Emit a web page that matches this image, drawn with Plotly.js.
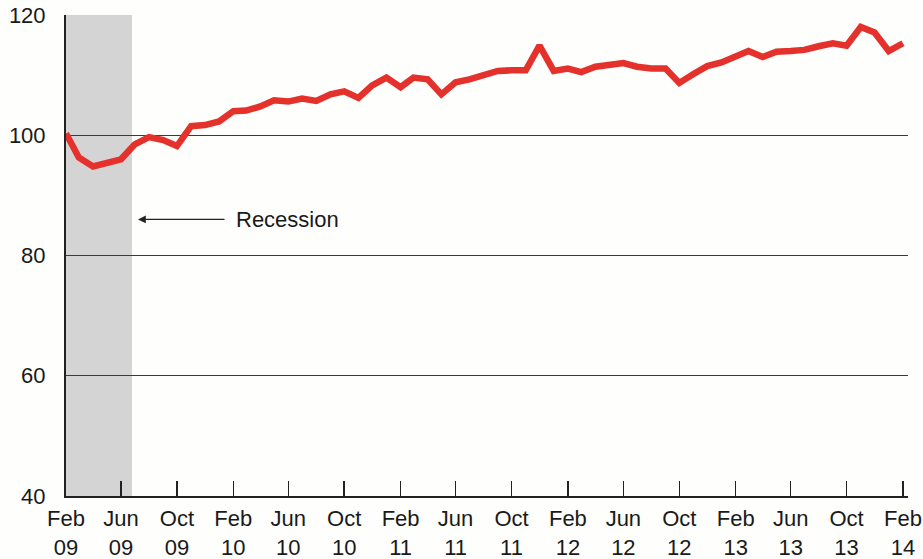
<!DOCTYPE html>
<html>
<head>
<meta charset="utf-8">
<script src="https://cdn.plot.ly/plotly-3.0.1.min.js"></script>
<style>html,body{margin:0;padding:0;background:#fefefc;}#chart{width:923px;height:559px;}</style>
</head>
<body>
<div id="chart"></div>
<script>
// Monthly dates Feb 2009 .. Feb 2014
const months = [
  '2009-02','2009-03','2009-04','2009-05','2009-06','2009-07','2009-08','2009-09','2009-10','2009-11','2009-12',
  '2010-01','2010-02','2010-03','2010-04','2010-05','2010-06','2010-07','2010-08','2010-09','2010-10','2010-11','2010-12',
  '2011-01','2011-02','2011-03','2011-04','2011-05','2011-06','2011-07','2011-08','2011-09','2011-10','2011-11','2011-12',
  '2012-01','2012-02','2012-03','2012-04','2012-05','2012-06','2012-07','2012-08','2012-09','2012-10','2012-11','2012-12',
  '2013-01','2013-02','2013-03','2013-04','2013-05','2013-06','2013-07','2013-08','2013-09','2013-10','2013-11','2013-12',
  '2014-01','2014-02'
];
const indexValues = [
  100.3, 96.3, 94.8, 95.3, 96.0, 98.5, 99.7, 99.2, 98.2, 101.5, 101.7,
  102.3, 104.0, 104.1, 104.8, 105.8, 105.6, 106.1, 105.7, 106.8, 107.3, 106.2, 108.3,
  109.6, 108.0, 109.6, 109.3, 106.8, 108.8, 109.3, 110.0, 110.7, 110.8, 110.8, 114.9,
  110.7, 111.1, 110.5, 111.4, 111.7, 112.0, 111.4, 111.1, 111.1, 108.7, 110.2, 111.5,
  112.1, 113.1, 114.0, 113.0, 113.9, 114.0, 114.2, 114.8, 115.3, 114.9, 118.0, 117.1,
  114.0, 115.3
];
const tickDates = ['2009-02-01','2009-06-01','2009-10-01','2010-02-01','2010-06-01','2010-10-01','2011-02-01','2011-06-01','2011-10-01','2012-02-01','2012-06-01','2012-10-01','2013-02-01','2013-06-01','2013-10-01','2014-02-01'];
const tickLabels = ['Feb<br>09','Jun<br>09','Oct<br>09','Feb<br>10','Jun<br>10','Oct<br>10','Feb<br>11','Jun<br>11','Oct<br>11','Feb<br>12','Jun<br>12','Oct<br>12','Feb<br>13','Jun<br>13','Oct<br>13','Feb<br>14'];
const yTicks = [40, 60, 80, 100, 120];
const recessionStart = '2009-02-01';
const recessionEnd = '2009-06-25';

const trace = {
  x: months.map(m => m + '-01'),
  y: indexValues,
  type: 'scatter',
  mode: 'lines',
  line: {color: '#e5312b', width: 6.5},
  hoverinfo: 'x+y'
};

const layout = {
  width: 923, height: 559,
  margin: {l: 66, r: 15, t: 15, b: 63},
  paper_bgcolor: '#fefefc',
  plot_bgcolor: '#fefefc',
  showlegend: false,
  font: {family: 'Liberation Sans, Arial, sans-serif', size: 22, color: '#1a1a1a'},
  xaxis: {
    type: 'date',
    range: ['2009-02-01', '2014-02-12'],
    tickmode: 'array',
    tickvals: tickDates,
    ticktext: tickLabels,
    ticks: 'inside',
    ticklen: 15,
    tickwidth: 1.5,
    tickcolor: '#222',
    showgrid: false,
    showline: true,
    linecolor: '#222',
    linewidth: 2,
    zeroline: false,
    tickfont: {size: 22, color: '#1a1a1a'},
    ticklabelstandoff: 2
  },
  yaxis: {
    range: [40, 120],
    tickmode: 'array',
    tickvals: yTicks,
    ticks: '',
    showgrid: true,
    gridcolor: '#3a3a3a',
    gridwidth: 1.3,
    showline: true,
    linecolor: '#222',
    linewidth: 2,
    zeroline: false,
    tickfont: {size: 22, color: '#1a1a1a'},
    ticklabelstandoff: 14
  },
  shapes: [{
    type: 'rect', xref: 'x', yref: 'paper',
    x0: recessionStart, x1: recessionEnd, y0: 0, y1: 1,
    fillcolor: '#d4d4d4', line: {width: 0}, layer: 'below'
  }],
  annotations: [
    {
      xref: 'paper', yref: 'y', x: 0.0855, y: 86,
      ax: 88, ay: 0, text: '', showarrow: true,
      arrowhead: 2, arrowsize: 1.2, arrowwidth: 1.3, arrowcolor: '#222'
    },
    {
      xref: 'paper', yref: 'y', x: 0.1995, y: 86,
      text: 'Recession', showarrow: false, xanchor: 'left', yanchor: 'middle',
      font: {size: 22, color: '#1a1a1a'}
    }
  ]
};

Plotly.newPlot('chart', [trace], layout, {displayModeBar: false, staticPlot: true});
</script>
</body>
</html>
